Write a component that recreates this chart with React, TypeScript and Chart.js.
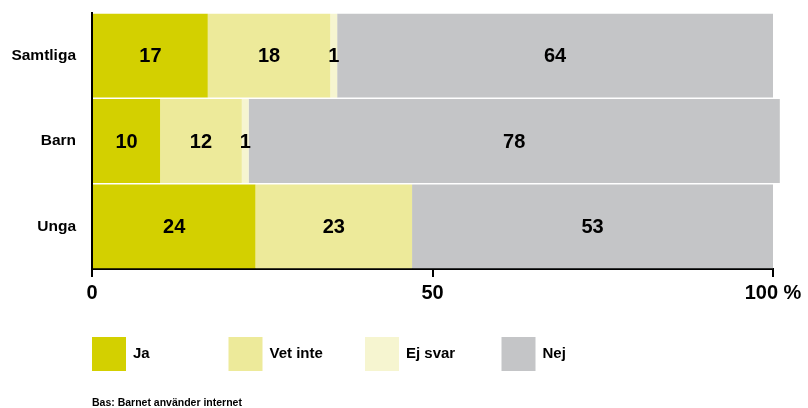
import React, { useEffect, useRef } from "react";
import { Chart, registerables } from "chart.js";

Chart.register(...registerables);

const categories = ["Samtliga", "Barn", "Unga"];
const seriesNames = ["Ja", "Vet inte", "Ej svar", "Nej"];
const ja = [17, 10, 24];
const vetInte = [18, 12, 23];
const ejSvar = [1, 1, 0];
const nej = [64, 78, 53];
const colors = ["#d3d000", "#edea9a", "#f6f5d0", "#c4c5c7"];
const xTicks = [0, 50, 100];
const footnote = "Bas: Barnet använder internet";

const FONT = "'Liberation Sans', Arial, sans-serif";

const valueLabels = {
  id: "valueLabels",
  afterDatasetsDraw(chart: any) {
    const ctx = chart.ctx;
    ctx.save();
    ctx.font = `bold 20px ${FONT}`;
    ctx.fillStyle = "#000";
    ctx.textAlign = "center";
    ctx.textBaseline = "middle";
    chart.data.datasets.forEach((ds: any, di: number) => {
      const meta = chart.getDatasetMeta(di);
      meta.data.forEach((el: any, i: number) => {
        const v = ds.data[i];
        if (!v) return;
        const x = (el.x + el.base) / 2;
        ctx.fillText(String(v), x, el.y + 1);
      });
    });
    ctx.restore();
  },
};

const legendAndNote = {
  id: "legendAndNote",
  afterDraw(chart: any) {
    const ctx = chart.ctx;
    const left = chart.chartArea.left;
    ctx.save();
    const step = 136.5;
    const top = 337;
    const size = 34;
    ctx.font = `bold 15px ${FONT}`;
    ctx.textBaseline = "middle";
    ctx.textAlign = "left";
    seriesNames.forEach((name, i) => {
      const x = left + i * step;
      ctx.fillStyle = colors[i];
      ctx.fillRect(x, top, size, size);
      ctx.fillStyle = "#000";
      ctx.fillText(name, x + size + 7, top + size / 2);
    });
    ctx.font = `bold 10.5px ${FONT}`;
    ctx.fillText(footnote, left, 403);
    ctx.restore();
  },
};

export default function App() {
  const ref = useRef<HTMLCanvasElement | null>(null);
  useEffect(() => {
    if (!ref.current) return;
    const series = [ja, vetInte, ejSvar, nej];
    const chart = new Chart(ref.current, {
      type: "bar",
      data: {
        labels: categories,
        datasets: seriesNames.map((name, i) => ({
          label: name,
          data: series[i],
          backgroundColor: colors[i],
          borderWidth: 0,
          barPercentage: 1,
          categoryPercentage: 0.982,
          clip: false as any,
        })),
      },
      options: {
        indexAxis: "y",
        responsive: false,
        animation: false,
        devicePixelRatio: 1,
        layout: { padding: { top: 13, right: 35, left: 0, bottom: 0 } },
        plugins: {
          legend: { display: false },
          tooltip: { enabled: false },
        },
        scales: {
          x: {
            stacked: true,
            min: 0,
            max: 100,
            afterFit(scale: any) {
              scale.height = 139;
            },
            afterBuildTicks(scale: any) {
              scale.ticks = xTicks.map((v) => ({ value: v }));
            },
            ticks: {
              padding: 4,
              color: "#000",
              font: { family: FONT, size: 20, weight: "bold" },
              callback: (v: any) => (v === 100 ? "100 %" : String(v)),
              maxRotation: 0,
            },
            grid: {
              display: true,
              drawOnChartArea: false,
              drawTicks: true,
              tickLength: 8,
              color: "#000",
              lineWidth: 2,
            },
            border: { display: true, color: "#000", width: 2 },
          },
          y: {
            stacked: true,
            afterFit(scale: any) {
              scale.width = 92;
              scale.paddingTop = 0;
              scale.paddingBottom = 0;
            },
            ticks: {
              padding: 8,
              color: "#000",
              font: { family: FONT, size: 15.5, weight: "bold" },
            },
            grid: { display: false },
            border: { display: true, color: "#000", width: 2 },
          },
        },
      } as any,
      plugins: [valueLabels, legendAndNote],
    });
    return () => chart.destroy();
  }, []);
  return (
    <div style={{ position: "absolute", left: 0, top: 0, width: 808, height: 408, background: "#fff" }}>
      <canvas ref={ref} width={808} height={408} style={{ width: 808, height: 408, display: "block" }} />
    </div>
  );
}
